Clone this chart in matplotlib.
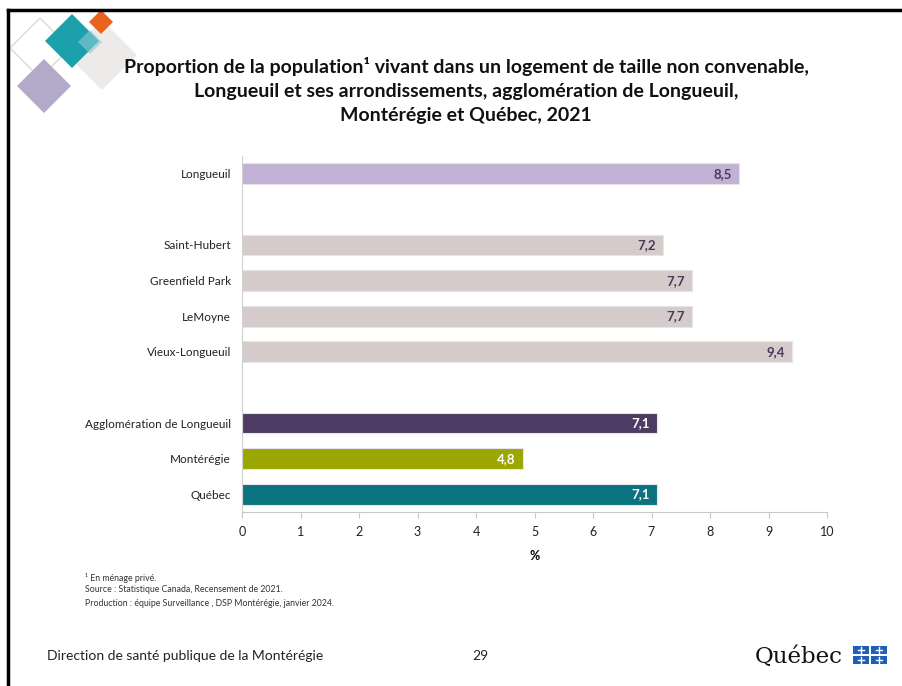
"""
Proportion de la population vivant dans un logement de taille non convenable,
Longueuil, 2021 -- slide recreation.
"""

import matplotlib
matplotlib.use("Agg")
import matplotlib.pyplot as plt
from matplotlib.patches import Rectangle, Polygon
from matplotlib.lines import Line2D

plt.rcParams["font.family"] = ["Lato", "DejaVu Sans"]

# data (None = blank separator row)
LABELS = ["Longueuil", None, "Saint-Hubert", "Greenfield Park", "LeMoyne",
          "Vieux-Longueuil", None, "Agglomération de Longueuil", "Montérégie", "Québec"]
VALUES = [8.5, None, 7.2, 7.7, 7.7, 9.4, None, 7.1, 4.8, 7.1]
COLORS = ["#C1B2D5", None, "#D5CBCA", "#D5CBCA", "#D5CBCA", "#D5CBCA", None,
          "#4E3B63", "#9BA600", "#0A737F"]
LABEL_COLORS = ["#4A3A5C", None, "#4A3A5C", "#4A3A5C", "#4A3A5C", "#4A3A5C", None,
                "white", "white", "white"]
XTICKS = list(range(0, 11))

W, H = 902, 686
fig = plt.figure(figsize=(W / 100, H / 100), dpi=100)
fig.patch.set_facecolor("white")


def fx(px):
    return px / W


def fy(py):
    return 1 - py / H


# slide frame (top and left)
fig.add_artist(Line2D([fx(8), fx(902)], [fy(10), fy(10)], color="black", lw=2.5))
fig.add_artist(Line2D([fx(8), fx(8)], [fy(10), fy(686)], color="black", lw=2.5))


# decorative diamonds (top-left)
def diamond(cx, cy, half, **kw):
    pts = [(fx(cx), fy(cy - half)), (fx(cx + half), fy(cy)),
           (fx(cx), fy(cy + half)), (fx(cx - half), fy(cy))]
    fig.add_artist(Polygon(pts, closed=True, transform=fig.transFigure, **kw))


diamond(40, 48, 30, facecolor="none", edgecolor="#D8DCD0", lw=1.0)
diamond(102, 55, 35, facecolor="#EDEBEA", edgecolor="none")
diamond(72, 41, 27, facecolor="#0E9BA8", edgecolor="none", alpha=0.95)
diamond(101, 22, 12, facecolor="#E8641E", edgecolor="none")
diamond(90, 42, 12, facecolor="#8BCBD2", edgecolor="none", alpha=0.6)
diamond(44, 86, 27, facecolor="#B3A9C8", edgecolor="none")

# title
TITLE = ["Proportion de la population\u00b9 vivant dans un logement de taille non convenable,",
         "Longueuil et ses arrondissements, agglomération de Longueuil,",
         "Montérégie et Québec, 2021"]
for line, py in zip(TITLE, [67, 91, 115]):
    fig.text(fx(466), fy(py), line, ha="center", va="center", fontsize=14,
             fontweight="bold", color="#111111")

# chart
ax = fig.add_axes([fx(242), fy(512), fx(827) - fx(242), fy(156) - fy(512)])
for i, (lab, val, col, lcol) in enumerate(zip(LABELS, VALUES, COLORS, LABEL_COLORS)):
    if val is None:
        continue
    ax.barh(i, val, height=0.58, color=col, edgecolor="#E8E4EC", linewidth=0.8)
    ax.text(val - 0.12, i, f"{val:.1f}".replace(".", ","), ha="right", va="center",
            fontsize=9.5, fontweight="bold", color=lcol)

ax.set_ylim(9.5, -0.5)
ax.set_xlim(0, 10)
ax.set_yticks([i for i, lab in enumerate(LABELS) if lab is not None])
ax.set_yticklabels([lab for lab in LABELS if lab is not None], fontsize=8.5, color="#222222")
ax.tick_params(axis="y", length=0, pad=8)
ax.set_xticks(XTICKS)
ax.set_xticklabels([str(t) for t in XTICKS], fontsize=9, color="#222222")
ax.tick_params(axis="x", direction="out", length=4, color="#C8C8C8", pad=6)
for s in ["top", "right"]:
    ax.spines[s].set_visible(False)
ax.spines["left"].set_color("#D0D0D0")
ax.spines["bottom"].set_color("#C8C8C8")
ax.set_xlabel("%", fontsize=9, fontweight="bold", labelpad=9)

# footnotes
NOTES = ["\u00b9 En ménage privé.",
         "Source : Statistique Canada, Recensement de 2021.",
         "Production : équipe Surveillance , DSP Montérégie, janvier 2024."]
for note, py in zip(NOTES, [578, 590, 603]):
    fig.text(fx(85), fy(py), note, fontsize=6.3, va="center", color="#333333")

# footer
fig.text(fx(47), fy(656), "Direction de santé publique de la Montérégie", fontsize=10,
         va="center", color="#222222")
fig.text(fx(480), fy(656), "29", fontsize=10, va="center", ha="center", color="#222222")
fig.text(fx(755), fy(657), "Québec", fontsize=16.5, va="center", ha="left",
         family=["DejaVu Serif"], color="#111111")
for (cx, cy) in [(861, 650), (879, 650), (861, 660), (879, 660)]:
    fig.add_artist(Rectangle((fx(cx - 8), fy(cy + 4.3)), fx(16), 8.6 / H,
                             transform=fig.transFigure, facecolor="#1F5FB8", edgecolor="none"))
    fig.add_artist(Line2D([fx(cx - 3), fx(cx + 3)], [fy(cy), fy(cy)], color="white", lw=1.0))
    fig.add_artist(Line2D([fx(cx), fx(cx)], [fy(cy - 3), fy(cy + 3)], color="white", lw=1.0))

fig.savefig("out.png", dpi=100)
